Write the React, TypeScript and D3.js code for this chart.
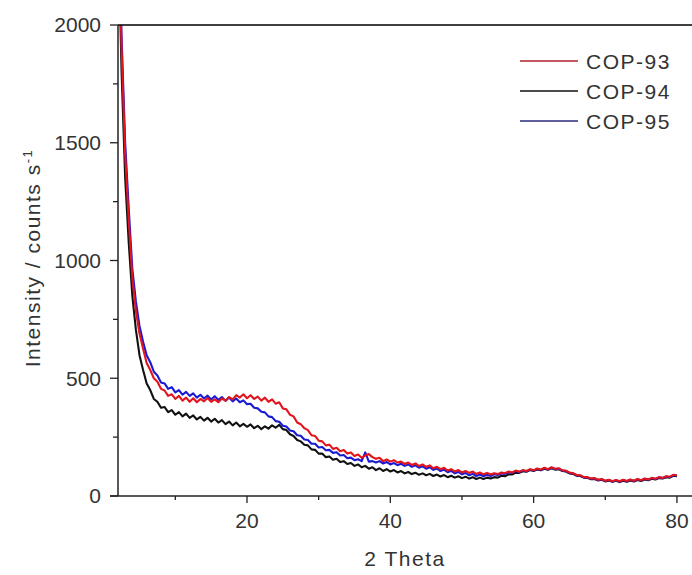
import React from "react";
import * as d3 from "d3";

const twoTheta = [
  2.2, 2.5, 3, 3.5, 4, 4.5, 5, 5.5, 6, 6.5,
  7, 7.5, 8, 8.5, 9, 9.5, 10, 10.5, 11, 11.5,
  12, 12.5, 13, 13.5, 14, 14.5, 15, 15.5, 16, 16.5,
  17, 17.5, 18, 18.5, 19, 19.5, 20, 20.5, 21, 21.5,
  22, 22.5, 23, 23.5, 24, 24.5, 25, 25.5, 26, 26.5,
  27, 27.5, 28, 28.5, 29, 29.5, 30, 30.5, 31, 31.5,
  32, 32.5, 33, 33.5, 34, 34.5, 35, 35.5, 36, 36.5,
  37, 37.5, 38, 38.5, 39, 39.5, 40, 40.5, 41, 41.5,
  42, 42.5, 43, 43.5, 44, 44.5, 45, 45.5, 46, 46.5,
  47, 47.5, 48, 48.5, 49, 49.5, 50, 50.5, 51, 51.5,
  52, 52.5, 53, 53.5, 54, 54.5, 55, 55.5, 56, 56.5,
  57, 57.5, 58, 58.5, 59, 59.5, 60, 60.5, 61, 61.5,
  62, 62.5, 63, 63.5, 64, 64.5, 65, 65.5, 66, 66.5,
  67, 67.5, 68, 68.5, 69, 69.5, 70, 70.5, 71, 71.5,
  72, 72.5, 73, 73.5, 74, 74.5, 75, 75.5, 76, 76.5,
  77, 77.5, 78, 78.5, 79, 79.5, 80,
];

const cop93 = [
  2300, 1900, 1450, 1170, 925, 785, 690, 625, 565, 535,
  500, 485, 455, 448, 425, 432, 412, 425, 405, 418,
  400, 415, 398, 412, 402, 416, 400, 410, 398, 414,
  405, 420, 410, 428, 418, 432, 415, 428, 412, 422,
  405, 418, 400, 410, 392, 398, 372, 368, 345, 338,
  312, 305, 288, 280, 258, 255, 235, 232, 215, 218,
  200, 205, 190, 195, 180, 185, 170, 176, 162, 172,
  178, 165, 158, 162, 148, 155, 146, 152, 142, 146,
  136, 142, 132, 138, 128, 134, 124, 130, 118, 124,
  114, 120, 108, 114, 104, 110, 100, 106, 98, 104,
  94, 100, 92, 98, 91, 97, 93, 100, 97, 104,
  100, 108, 103, 110, 106, 114, 109, 117, 112, 120,
  114, 122, 116, 118, 109, 108, 100, 97, 89, 88,
  80, 80, 74, 76, 69, 72, 65, 69, 63, 68,
  63, 69, 64, 70, 65, 72, 67, 74, 70, 77,
  73, 80, 77, 84, 82, 90, 88,
];

const cop94 = [
  2200, 1800, 1350, 1075, 850, 705, 598, 535, 478, 450,
  412, 400, 375, 378, 356, 365, 345, 356, 338, 350,
  332, 342, 325, 336, 320, 332, 316, 328, 312, 322,
  305, 316, 300, 312, 296, 306, 294, 304, 288, 298,
  284, 296, 286, 300, 290, 302, 284, 280, 262, 255,
  238, 232, 218, 215, 198, 196, 180, 180, 165, 168,
  154, 158, 144, 148, 136, 140, 128, 134, 122, 128,
  116, 122, 110, 118, 106, 114, 104, 110, 100, 106,
  96, 102, 93, 99, 90, 96, 88, 94, 85, 91,
  83, 89, 80, 86, 78, 84, 76, 82, 74, 80,
  72, 78, 72, 78, 74, 80, 78, 86, 84, 92,
  91, 99, 98, 105, 103, 110, 106, 113, 109, 116,
  111, 118, 112, 114, 106, 104, 96, 94, 86, 85,
  78, 77, 71, 72, 66, 69, 62, 66, 60, 65,
  59, 65, 60, 66, 62, 68, 64, 70, 67, 73,
  70, 76, 74, 80, 78, 86, 84,
];

const cop95 = [
  2300, 1950, 1500, 1220, 965, 825, 722, 655, 598, 568,
  528, 512, 482, 478, 455, 462, 440, 450, 430, 442,
  425, 436, 418, 430, 414, 426, 410, 424, 408, 420,
  404, 418, 402, 414, 398, 406, 390, 392, 375, 372,
  358, 355, 338, 335, 318, 315, 298, 295, 278, 275,
  258, 256, 240, 238, 222, 222, 206, 208, 194, 196,
  183, 186, 172, 174, 160, 163, 152, 156, 148, 185,
  146, 148, 142, 148, 138, 144, 134, 140, 131, 137,
  128, 134, 124, 130, 120, 126, 116, 122, 111, 117,
  106, 112, 101, 107, 96, 102, 92, 98, 88, 94,
  85, 91, 84, 90, 85, 92, 89, 96, 94, 101,
  98, 105, 102, 108, 105, 112, 108, 115, 111, 118,
  113, 120, 114, 116, 108, 106, 98, 96, 88, 87,
  79, 79, 73, 75, 68, 71, 64, 68, 62, 67,
  62, 68, 63, 69, 64, 71, 66, 73, 69, 76,
  72, 79, 76, 83, 80, 88, 86,
];

const seriesNames = ["COP-93", "COP-94", "COP-95"];
const seriesColors = ["#e2141c", "#111111", "#1a1ad4"];
const legendColors = ["#b0202a", "#111111", "#2a2a80"];
const drawOrder = [1, 2, 0];

const xMajorTicks = [20, 40, 60, 80];
const xMinorTicks = [10, 30, 50, 70];
const yMajorTicks = [0, 500, 1000, 1500, 2000];
const yMinorTicks = [250, 750, 1250, 1750];

const W = 692;
const H = 575;
const left = 118;
const right = 692;
const top = 25;
const bottom = 496;
const FONT = "'Liberation Sans', Arial, sans-serif";
const TEXT = "#333";

export default function App() {
  const x = d3.scaleLinear().domain([2, 82.1]).range([left, right]);
  const y = d3.scaleLinear().domain([0, 2000]).range([bottom, top]);
  const allSeries = [cop93, cop94, cop95];

  const line = (vals: number[]) =>
    d3
      .line<number>()
      .x((_, i) => x(twoTheta[i]))
      .y((d) => y(d))(vals.slice(0, twoTheta.length)) || "";

  return (
    <svg
      width={W}
      height={H}
      style={{ position: "absolute", left: 0, top: 0, background: "#fff", display: "block" }}
    >
      <rect x={0} y={0} width={W} height={H} fill="#fff" />
      <defs>
        <clipPath id="plotClip">
          <rect x={left} y={top} width={right - left} height={bottom - top} />
        </clipPath>
      </defs>

      <g clipPath="url(#plotClip)">
        {drawOrder.map((k) => (
          <path
            key={seriesNames[k]}
            d={line(allSeries[k])}
            fill="none"
            stroke={seriesColors[k]}
            strokeWidth={2.1}
            strokeLinejoin="round"
          />
        ))}
      </g>

      {/* frame */}
      <line x1={left} x2={right} y1={top} y2={top} stroke="#000" strokeWidth={1.5} />
      <line x1={left} x2={left} y1={top} y2={bottom} stroke="#222" strokeWidth={1.5} />
      <line x1={left - 8} x2={right} y1={bottom} y2={bottom} stroke="#222" strokeWidth={1.5} />

      {/* y ticks */}
      {yMajorTicks.map((t) => (
        <g key={"ym" + t}>
          <line x1={left - 8} x2={left} y1={y(t)} y2={y(t)} stroke="#222" strokeWidth={1.3} />
          <text
            x={101}
            y={y(t)}
            dy="0.35em"
            textAnchor="end"
            fontFamily={FONT}
            fontSize={21}
            fill={TEXT}
          >
            {t}
          </text>
        </g>
      ))}
      {yMinorTicks.map((t) => (
        <line key={"yn" + t} x1={left - 5} x2={left} y1={y(t)} y2={y(t)} stroke="#222" strokeWidth={1.3} />
      ))}

      {/* x ticks */}
      {xMajorTicks.map((t) => (
        <g key={"xm" + t}>
          <line x1={x(t)} x2={x(t)} y1={bottom} y2={bottom + 7} stroke="#222" strokeWidth={1.3} />
          <text
            x={x(t)}
            y={528}
            textAnchor="middle"
            fontFamily={FONT}
            fontSize={21}
            fill={TEXT}
          >
            {t}
          </text>
        </g>
      ))}
      {xMinorTicks.map((t) => (
        <line key={"xn" + t} x1={x(t)} x2={x(t)} y1={bottom} y2={bottom + 4} stroke="#222" strokeWidth={1.3} />
      ))}

      {/* axis titles */}
      <text
        x={(left + right) / 2}
        y={566}
        textAnchor="middle"
        fontFamily={FONT}
        fontSize={21}
        letterSpacing={1.5}
        fill={TEXT}
      >
        2 Theta
      </text>
      <text
        transform={`translate(40, 258) rotate(-90)`}
        textAnchor="middle"
        fontFamily={FONT}
        fontSize={21}
        letterSpacing={1.5}
        fill={TEXT}
      >
        Intensity / counts s
        <tspan dy={-8} fontSize={13}>-1</tspan>
      </text>

      {/* legend */}
      {seriesNames.map((name, i) => (
        <g key={name}>
          <line x1={520} x2={578} y1={61 + i * 30} y2={61 + i * 30} stroke={legendColors[i]} strokeWidth={1.5} />
          <text
            x={586}
            y={68.5 + i * 30}
            fontFamily={FONT}
            fontSize={21}
            letterSpacing={1.5}
            fill={TEXT}
          >
            {name}
          </text>
        </g>
      ))}
    </svg>
  );
}
